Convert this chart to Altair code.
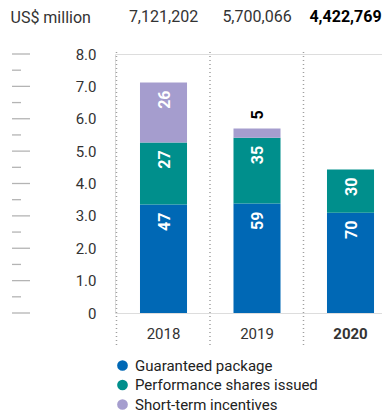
import altair as alt
import pandas as pd

years = ["2018", "2019", "2020"]
totals = [7121202, 5700066, 4422769]
bold_year = "2020"
categories = ["Guaranteed package", "Performance shares issued", "Short-term incentives"]
colors = ["#0068b5", "#008f8c", "#a59dce"]

guaranteed = [3.35, 3.38, 3.10]
performance = [1.92, 2.03, 1.33]
short_term = [1.85, 0.29, 0.0]

pct_guaranteed = [47, 59, 70]
pct_performance = [27, 35, 30]
pct_short_term = [26, 5, 0]

major_ticks = [0, 1, 2, 3, 4, 5, 6, 7, 8]
minor_ticks = [0.5, 1.5, 2.5, 3.5, 4.5, 5.5, 6.5, 7.5]

FONT = "Roboto"

rows = []
for i, yr in enumerate(years):
    for j, (cat, vals, pcts) in enumerate(
        zip(categories, [guaranteed, performance, short_term],
            [pct_guaranteed, pct_performance, pct_short_term])):
        if vals[i] > 0:
            rows.append(dict(year=yr, category=cat, ord=j, value=vals[i], pct=pcts[i]))
df = pd.DataFrame(rows)
tot_df = pd.DataFrame({"year": years, "total": totals})
yr_df = pd.DataFrame({"year": years})
major_df = pd.DataFrame({"t": major_ticks})
minor_df = pd.DataFrame({"t": minor_ticks})

xscale = alt.Scale(domain=years, paddingInner=0.497, paddingOuter=0.1763, align=0.758)
yscale = alt.Scale(domain=[0, 8], nice=False, zero=True)

xaxis = alt.Axis(title=None, ticks=False, domain=False, labelPadding=13,
                 labelFontSize=15, labelFont=FONT, labelColor="#333",
                 labelAngle=0, labelBaseline="top",
                 labelFontWeight=alt.condition(f"datum.value == '{bold_year}'",
                                               alt.value("bold"), alt.value("normal")))
yaxis = alt.Axis(title="US$ million", titleAngle=0, titleAlign="left",
                 titleBaseline="middle", titleX=-105, titleY=-37,
                 titleFont=FONT, titleFontSize=16, titleFontWeight="normal",
                 titleColor="#333",
                 values=major_ticks, grid=False, domain=False, ticks=False,
                 labelPadding=19, labelFontSize=15, labelFont=FONT,
                 labelColor="#333",
                 labelExpr="datum.value == 0 ? '0' : format(datum.value, '.1f')")


def X(**kw):
    return alt.X("year:N", scale=xscale, axis=xaxis, sort=years, **kw)


def Y(field, **kw):
    return alt.Y(field, scale=yscale, axis=yaxis, title="US$ million", **kw)


bars = alt.Chart(df).mark_bar().encode(
    x=X(),
    y=Y("value:Q", stack="zero"),
    color=alt.Color("category:N",
                    scale=alt.Scale(domain=categories, range=colors),
                    legend=alt.Legend(title=None, orient="none", legendX=0,
                                      legendY=304, symbolType="circle",
                                      symbolSize=115, symbolStrokeWidth=0,
                                      labelFont=FONT, labelFontSize=15,
                                      labelColor="#222", labelOffset=5,
                                      labelLimit=400,
                                      rowPadding=3.5, direction="vertical")),
    order=alt.Order("ord:Q", sort="ascending"),
)

stacked = alt.Chart(df).transform_stack(
    stack="value", groupby=["year"], as_=["y0", "y1"],
    sort=[alt.SortField("ord", order="ascending")])

inside = stacked.transform_filter("datum.value >= 0.5").mark_text(
    angle=270, align="right", baseline="middle", dx=-8, dy=1,
    font=FONT, fontSize=16, fontWeight="bold", color="white"
).encode(x=X(), y=Y("y1:Q"), text=alt.Text("pct:Q"))

outside = stacked.transform_filter("datum.value < 0.5").mark_text(
    angle=270, align="left", baseline="middle", dx=9, dy=1,
    font=FONT, fontSize=16, fontWeight="bold", color="black"
).encode(x=X(), y=Y("y1:Q"), text=alt.Text("pct:Q"))

seps = alt.Chart(yr_df).mark_rule(color="#a0a0a0", strokeWidth=1.5,
                                  strokeDash=[1, 3], xOffset=-23.5).encode(
    x=X(bandPosition=0),
    y=alt.value(-2), y2=alt.value(293))

major = alt.Chart(major_df).mark_rule(color="#b4b4b4", strokeWidth=1.3).encode(
    x=alt.value(-103), x2=alt.value(-85), y=Y("t:Q"))
minor = alt.Chart(minor_df).mark_rule(color="#b4b4b4", strokeWidth=1.3).encode(
    x=alt.value(-103), x2=alt.value(-94), y=Y("t:Q"))

tot_norm = alt.Chart(tot_df).transform_filter(f"datum.year != '{bold_year}'").mark_text(
    font=FONT, fontSize=16, color="#333", baseline="middle").encode(
    x=X(), y=alt.value(-37), text=alt.Text("total:Q", format=","))
tot_bold = alt.Chart(tot_df).transform_filter(f"datum.year == '{bold_year}'").mark_text(
    font=FONT, fontSize=16, fontWeight="bold", color="black", baseline="middle",
    dx=-5).encode(
    x=X(), y=alt.value(-37), text=alt.Text("total:Q", format=","))

chart = alt.layer(seps, major, minor, bars, inside, outside, tot_norm, tot_bold).properties(
    width=267, height=259,
    autosize=alt.AutoSizeParams(type="none"),
    padding={"left": 107, "top": 46, "right": 0, "bottom": 100},
).configure_view(stroke=None).configure(font=FONT)

chart.save("out.html", embed_options={"renderer": "svg", "actions": False})
